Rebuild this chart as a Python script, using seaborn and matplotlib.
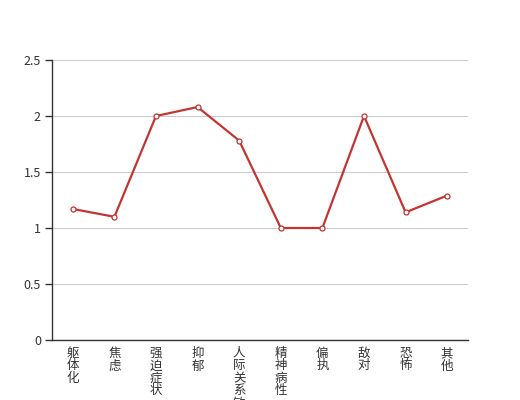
import pandas as pd
import numpy as np
import matplotlib
matplotlib.use('Agg')
import matplotlib.pyplot as plt
import seaborn as sns
from matplotlib.ticker import FixedLocator

# Data
categories = ['躯体化', '焦虑', '强迫症状', '抑郁', '人际关系敏感',
              '精神病性', '偏执', '敌对', '恐怖', '其他']
scores = [1.17, 1.10, 2.00, 2.08, 1.78, 1.00, 1.00, 2.00, 1.14, 1.29]
y_ticks = [0, 0.5, 1, 1.5, 2, 2.5]
y_tick_labels = ['0', '0.5', '1', '1.5', '2', '2.5']

sns.set_style('white')
plt.rcParams['font.family'] = ['Noto Sans CJK SC', 'DejaVu Sans']

df = pd.DataFrame({'factor': categories, 'score': scores})

fig = plt.figure(figsize=(5.2, 4.0), dpi=100)
ax = fig.add_axes([0.1, 0.15, 0.8, 0.7])

sns.lineplot(data=df, x='factor', y='score', ax=ax, color='#c23531',
             linewidth=1.6, marker='o', markersize=3.6,
             markerfacecolor='white', markeredgecolor='#c23531',
             markeredgewidth=0.9, zorder=3)

ax.set_ylim(0, 2.5)
ax.set_xlim(-0.5, len(categories) - 0.5)
ax.set_yticks(y_ticks)
ax.set_yticklabels(y_tick_labels)
ax.yaxis.grid(True, color='#cccccc', linewidth=0.8)
ax.set_axisbelow(True)

ax.set_xticks(range(len(categories)))
ax.set_xticklabels(['\n'.join(c) for c in categories], va='top', linespacing=0.95)
ax.xaxis.set_minor_locator(FixedLocator(np.arange(-0.5, len(categories), 1.0)))
ax.tick_params(axis='x', which='major', length=0, pad=5, labelsize=9, labelcolor='#333333')
ax.tick_params(axis='x', which='minor', length=5, width=1, color='#333333', direction='out')
ax.tick_params(axis='y', which='major', length=5, width=1, color='#333333',
               direction='out', labelsize=9, labelcolor='#333333', pad=3, left=True)

ax.set_xlabel('')
ax.set_ylabel('')
for side in ['top', 'right']:
    ax.spines[side].set_visible(False)
for side in ['left', 'bottom']:
    ax.spines[side].set_color('#333333')
    ax.spines[side].set_linewidth(1)

fig.savefig('out.png', dpi=100)
